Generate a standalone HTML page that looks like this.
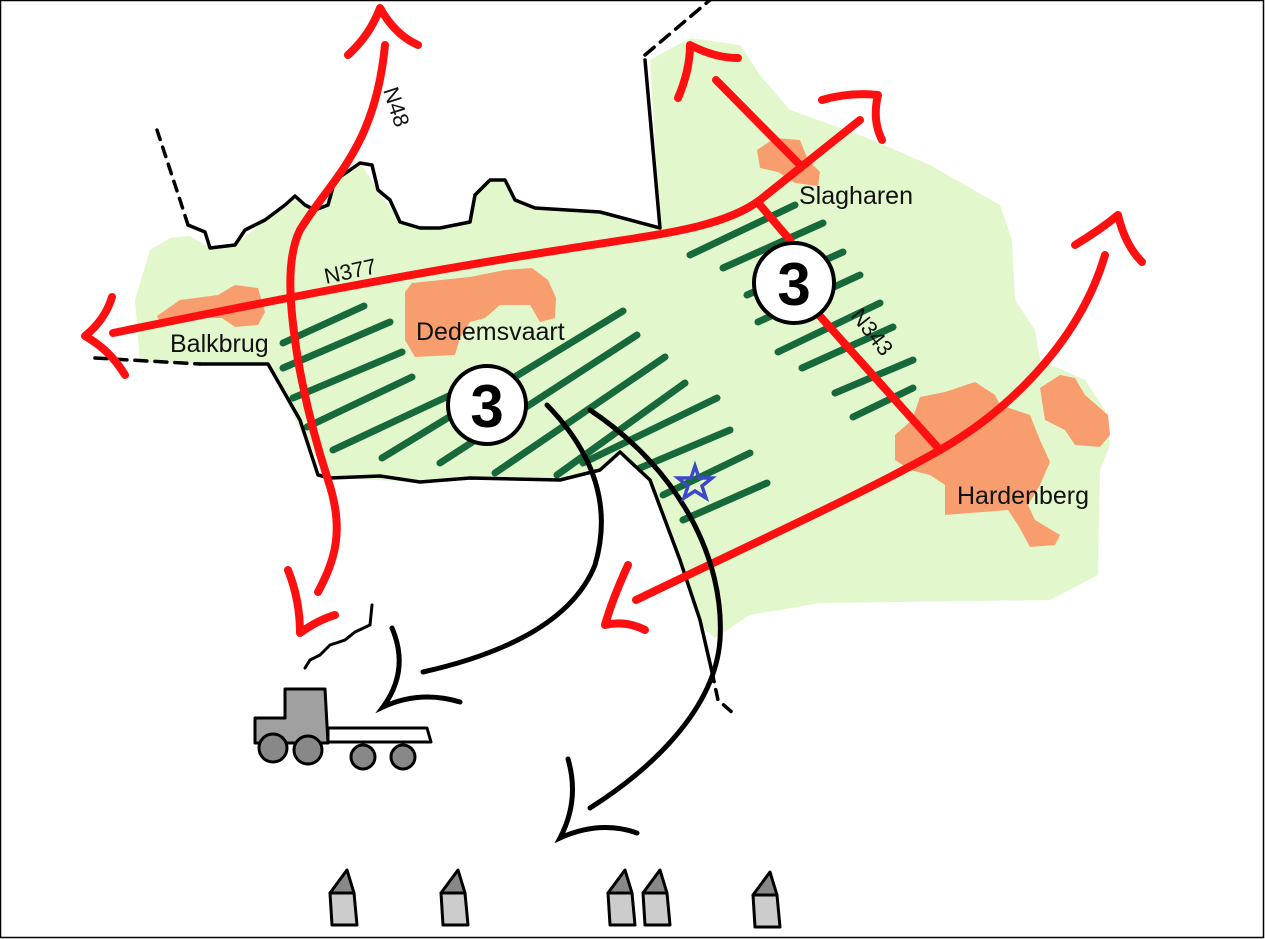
<!DOCTYPE html>
<html><head><meta charset="utf-8"><style>
html,body{margin:0;padding:0;background:#fff;}
svg{display:block;}
text{font-family:"Liberation Sans",sans-serif;fill:#111;}
</style></head><body>
<svg width="1265" height="939" viewBox="0 0 1265 939" xmlns="http://www.w3.org/2000/svg">
<rect x="0.5" y="0.5" width="1263" height="937" fill="#fff" stroke="#000" stroke-width="1.5"/>
<path fill="#e2f8cc" d="M135,300 L150,250 L170,238 L190,236 L210,248 L235,245 L265,220 L295,196 L315,210 L330,200 L335,180 L360,163 L378,190 L400,222 L440,228 L470,222 L475,195 L490,180 L505,180 L515,200 L535,208 L600,212 L660,228 L650,60 L690,38 L740,45 L760,75 L790,110 L860,135 L930,165 L1000,205 L1012,240 L1015,300 L1035,330 L1040,360 L1085,380 L1105,410 L1110,445 L1100,470 L1098,575 L1050,600 L820,603 L750,615 L715,638 L700,625 L680,560 L650,480 L620,452 L600,470 L560,480 L470,478 L420,482 L330,478 L300,430 L270,365 L140,362 Z"/>
<path fill="#f89e6e" d="M157,316 L180,300 L218,295 L235,285 L258,288 L265,312 L258,325 L235,327 L222,318 L190,318 L160,322 Z"/>
<path fill="#f89e6e" d="M405,292 L412,283 L470,277 L505,270 L532,268 L548,280 L556,298 L555,318 L540,322 L530,305 L500,305 L485,318 L470,322 L460,338 L455,355 L415,357 L405,340 Z"/>
<path fill="#f89e6e" d="M757,150 L775,138 L800,140 L808,160 L820,172 L818,186 L795,183 L778,172 L760,168 Z"/>
<path fill="#f89e6e" d="M895,435 L912,420 L920,397 L945,392 L975,382 L995,395 L1000,405 L1030,415 L1040,440 L1050,462 L1040,485 L1028,505 L1035,520 L1060,535 L1055,545 L1030,547 L1018,525 L1008,510 L945,515 L945,500 L945,485 L930,475 L910,470 L895,460 Z"/>
<path fill="#f89e6e" d="M1040,388 L1060,375 L1075,378 L1085,395 L1108,415 L1110,435 L1100,447 L1075,445 L1065,430 L1045,420 Z"/>
<g stroke="#17683a" stroke-width="7" stroke-linecap="round">
<line x1="283" y1="343" x2="364" y2="306"/>
<line x1="283" y1="368" x2="390" y2="322"/>
<line x1="293" y1="398" x2="402" y2="352"/>
<line x1="307" y1="427" x2="412" y2="377"/>
<line x1="333" y1="450" x2="455" y2="393"/>
<line x1="382" y1="458" x2="623" y2="311"/>
<line x1="440" y1="463" x2="637" y2="335"/>
<line x1="495" y1="473" x2="665" y2="357"/>
<line x1="557" y1="475" x2="685" y2="383"/>
<line x1="583" y1="463" x2="717" y2="398"/>
<line x1="640" y1="468" x2="730" y2="430"/>
<line x1="663" y1="495" x2="750" y2="453"/>
<line x1="683" y1="520" x2="767" y2="483"/>
<line x1="690" y1="255" x2="795" y2="205"/>
<line x1="723" y1="268" x2="823" y2="223"/>
<line x1="747" y1="295" x2="843" y2="252"/>
<line x1="758" y1="322" x2="860" y2="275"/>
<line x1="778" y1="352" x2="880" y2="303"/>
<line x1="802" y1="368" x2="893" y2="327"/>
<line x1="835" y1="393" x2="913" y2="360"/>
<line x1="853" y1="417" x2="913" y2="388"/>
</g>
<g fill="none" stroke="#000" stroke-width="4.5" stroke-linejoin="round" stroke-linecap="round">
<path d="M188,225 L205,232 L210,248 L235,245 L245,230 L265,220 L285,205 L295,196 L305,205 L315,210 L328,205 L335,180 L350,170 L360,163 L372,165 L378,190 L390,200 L400,222 L420,228 L440,228 L470,222 L475,195 L490,180 L505,180 L515,200 L535,208 L600,212 L660,228 L645,60" stroke-width="3.5"/>
<path d="M200,364 L268,364 L300,420 L318,475 L330,478 L380,476 L420,482 L470,478 L560,480 L600,470 L620,452 L650,480 L680,560 L700,620 L712,672" stroke-width="3.5"/>
<path d="M157,130 L180,200 L188,225" stroke-dasharray="10,8" stroke-width="3.5"/>
<path d="M95,358 L200,364" stroke-dasharray="12,8" stroke-width="3.5"/>
<path d="M645,55 L710,0" stroke-dasharray="12,8" stroke-width="3.5"/>
<path d="M712,672 L718,700 L735,715" stroke-dasharray="10,8" stroke-width="3.5"/>
</g>
<g fill="none" stroke="#ff1010" stroke-width="8" stroke-linecap="round" stroke-linejoin="round">
<path d="M318,592 C335,560 345,530 328,480 C315,440 305,400 298,360 C290,310 285,260 300,230 C330,180 375,150 385,45"/>
<path d="M348,55 Q370,35 380,8 Q395,35 418,45"/>
<path d="M113,333 C250,305 400,275 560,250 C650,235 720,230 760,200 L860,120"/>
<path d="M112,297 Q105,320 85,336 Q110,350 125,375"/>
<path d="M822,100 Q850,92 878,95 Q872,120 882,140"/>
<path d="M800,165 L716,80"/>
<path d="M678,98 Q690,70 690,45 Q715,58 738,58"/>
<path d="M760,205 L790,240 L810,305 L940,450"/>
<path d="M636,600 C760,540 870,490 940,450 C1010,410 1080,340 1105,255"/>
<path d="M1075,245 Q1100,230 1118,215 Q1125,245 1142,262"/>
<path d="M628,565 Q612,600 605,625 Q625,620 645,630"/>
<path d="M288,570 Q300,600 300,633 Q318,620 335,615"/>
</g>
<g stroke="#000" stroke-width="4" fill="#fff">
<circle cx="487" cy="405" r="39"/>
<circle cx="794" cy="283" r="40"/>
</g>
<text x="487" y="427" font-size="60" font-weight="bold" text-anchor="middle" style="fill:#000">3</text>
<text x="794" y="305" font-size="60" font-weight="bold" text-anchor="middle" style="fill:#000">3</text>
<g fill="none" stroke="#000" stroke-width="5" stroke-linecap="round">
<path d="M547,405 Q620,480 595,565 Q565,640 423,672"/>
<path d="M392,628 Q410,670 383,707 Q420,690 460,702"/>
<path d="M590,410 C680,470 725,560 720,640 C715,710 650,770 590,808"/>
<path d="M568,759 Q580,800 560,838 Q600,820 637,833"/>
<path d="M372,605 L370,625 L355,632 L345,640 L330,645 L320,655 L310,660 L305,668" stroke-width="3"/>
</g>
<g stroke="#000" stroke-width="3" stroke-linejoin="round">
<path fill="#a0a0a0" d="M285,689 L325,689 L328,743 L255,743 L255,718 L285,718 Z"/>
<path fill="#fff" d="M328,728 L427,728 L431,742 L328,742 Z"/>
<circle cx="273" cy="748" r="14" fill="#888"/>
<circle cx="308" cy="750" r="14" fill="#888"/>
<circle cx="363" cy="757" r="12" fill="#888"/>
<circle cx="403" cy="757" r="12" fill="#888"/>
</g>
<g stroke="#000" stroke-width="3" stroke-linejoin="round">
<g transform="translate(347,0)"><path fill="#888" d="M0,870 L-17,893 L7,893 Z"/><path fill="#ccc" d="M-17,893 L7,893 L10,925 L-15,925 Z"/></g>
<g transform="translate(458,0)"><path fill="#888" d="M0,870 L-17,893 L7,893 Z"/><path fill="#ccc" d="M-17,893 L7,893 L10,925 L-15,925 Z"/></g>
<g transform="translate(625,0)"><path fill="#888" d="M0,870 L-17,893 L7,893 Z"/><path fill="#ccc" d="M-17,893 L7,893 L10,925 L-15,925 Z"/></g>
<g transform="translate(660,0)"><path fill="#888" d="M0,870 L-17,893 L7,893 Z"/><path fill="#ccc" d="M-17,893 L7,893 L10,925 L-15,925 Z"/></g>
<g transform="translate(770,0)"><path fill="#888" d="M0,872 L-17,895 L7,895 Z"/><path fill="#ccc" d="M-17,895 L7,895 L10,927 L-15,927 Z"/></g>
</g>
<polygon points="695,466 699,478 712,478 702,486 706,498 695,491 684,498 688,486 678,478 691,478" fill="none" stroke="#3c48c8" stroke-width="3.5"/>
<text x="170" y="352" font-size="25">Balkbrug</text>
<text x="416" y="340" font-size="25">Dedemsvaart</text>
<text x="799" y="204" font-size="25">Slagharen</text>
<text x="957" y="504" font-size="25">Hardenberg</text>
<text x="326" y="284" font-size="22" transform="rotate(-12 326 284)">N377</text>
<text x="383" y="90" font-size="22" transform="rotate(72 383 90)">N48</text>
<text x="850" y="316" font-size="22" transform="rotate(52 850 316)">N343</text>
</svg>
</body></html>
